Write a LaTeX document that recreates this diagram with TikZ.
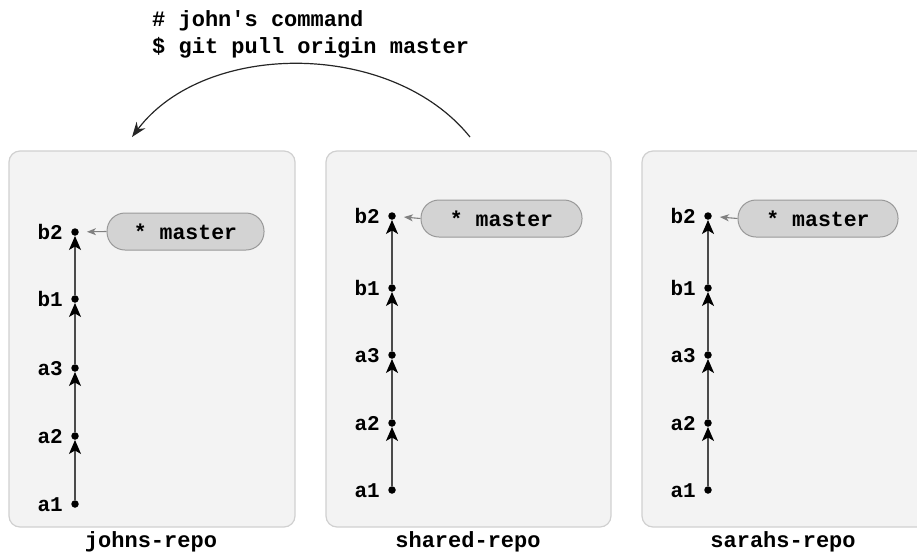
\documentclass[tikz,border=0pt]{standalone}
\usepackage{fontspec}
\setmonofont{Liberation Mono}
\usetikzlibrary{arrows.meta}
\definecolor{panelfill}{HTML}{F3F3F3}
\definecolor{panelline}{HTML}{D0D0D0}
\definecolor{pillfill}{HTML}{D3D3D3}
\definecolor{pillline}{HTML}{999999}
\definecolor{edgecol}{HTML}{4A4A4A}
\tikzset{
  panel/.style={draw=panelline, fill=panelfill, rounded corners=11pt, line width=1.2pt},
  commit/.style={circle, fill=black, inner sep=0pt, minimum size=7.5pt},
  clabel/.style={font=\ttfamily\bfseries\fontsize{21}{24}\selectfont, anchor=base east, inner sep=0pt},
  pill/.style={draw=pillline, fill=pillfill, rounded corners=18pt, minimum height=37pt, inner sep=0pt, line width=1pt, font=\ttfamily\bfseries\fontsize{21.5}{24}\selectfont},
  parent/.style={draw=edgecol, line width=1.6pt, -{Stealth[length=14pt,width=12pt,inset=3.5pt,color=black]}},
  ptr/.style={draw=gray, line width=1.1pt, -{Stealth[length=9pt,width=7pt,inset=2.5pt]}, shorten >=8pt},
  repolabel/.style={font=\ttfamily\bfseries\fontsize{22}{24}\selectfont, anchor=base, inner sep=0pt},
  cmd/.style={font=\ttfamily\bfseries\fontsize{22}{24}\selectfont, anchor=base west, inner sep=0pt},
  pull/.style={draw=black!85, line width=1.2pt, -{Stealth[length=15pt,width=11pt,inset=5pt]}},
}
\begin{document}
\begin{tikzpicture}[x=1pt,y=-1pt]
\useasboundingbox (0,0) rectangle (917,555);
\clip (0,0) rectangle (917,555);
% panels
\draw[panel] (9,151) rectangle (295,527);
\draw[panel] (326,151) rectangle (611,527);
\draw[panel] (642,151) rectangle (935,527);
% command text
\node[cmd] (cmd1) at (152,26) {\# john's command};
\node[cmd] (cmd2) at (152,53) {\$ git pull origin master};
\coordinate (pullsrc) at (470,137);
\coordinate (pulldst) at (132,137);
\draw[pull] (pullsrc) .. controls (392,40) and (205,40) .. (pulldst);
% johns repo
\foreach \n/\y in {a1/504, a2/436, a3/368, b1/299, b2/232}{
  \node[commit] (j\n) at (75,\y) {};
  \node[clabel] (jl\n) at (63,\y+7) {\n};
}
% shared repo
\foreach \n/\y in {a1/490, a2/423, a3/355, b1/288, b2/216}{
  \node[commit] (s\n) at (392,\y) {};
  \node[clabel] (sl\n) at (380,\y+7) {\n};
}
% sarahs repo
\foreach \n/\y in {a1/490, a2/423, a3/355, b1/288, b2/216}{
  \node[commit] (r\n) at (708,\y) {};
  \node[clabel] (rl\n) at (696,\y+7) {\n};
}
\foreach \p in {j,s,r}{
  \draw[parent] (\p a1) -- (\p a2);
  \draw[parent] (\p a2) -- (\p a3);
  \draw[parent] (\p a3) -- (\p b1);
  \draw[parent] (\p b1) -- (\p b2);
}
% master pills
\node[pill, minimum width=157pt] (jm) at (185.5,231.5) {* master};
\node[pill, minimum width=161pt] (sm) at (501.5,218.5) {* master};
\node[pill, minimum width=160pt] (rm) at (818,218.5) {* master};
\draw[ptr] (jm.west) -- (jb2);
\draw[ptr] (sm.west) -- (sb2);
\draw[ptr] (rm.west) -- (rb2);
% repo labels
\node[repolabel] (jname) at (151,547) {johns-repo};
\node[repolabel] (sname) at (468,547) {shared-repo};
\node[repolabel] (rname) at (783,547) {sarahs-repo};
\end{tikzpicture}
\end{document}
